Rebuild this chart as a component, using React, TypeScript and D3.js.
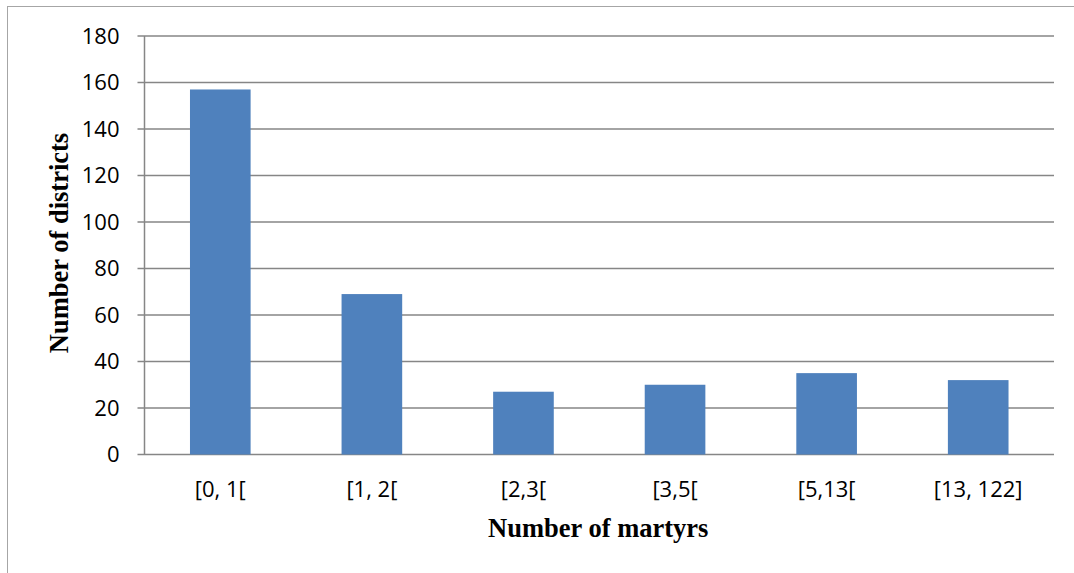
import * as d3 from "d3";
import { useEffect, useRef } from "react";

const categories = ["[0, 1[", "[1, 2[", "[2,3[", "[3,5[", "[5,13[", "[13, 122]"];
const districts = [157, 69, 27, 30, 35, 32];
const yTicks = [0, 20, 40, 60, 80, 100, 120, 140, 160, 180];

const width = 1074;
const height = 573;

export default function App() {
  const svgRef = useRef<SVGSVGElement>(null);

  useEffect(() => {
    if (!svgRef.current) return;
    const svg = d3.select(svgRef.current);
    svg.selectAll("*").remove();

    const margin = { top: 36, right: 20, bottom: 118.5, left: 144.5 };
    const innerWidth = width - margin.left - margin.right;
    const innerHeight = height - margin.top - margin.bottom;

    // chart frame
    svg
      .append("rect")
      .attr("x", 7.5)
      .attr("y", 6.5)
      .attr("width", width + 10)
      .attr("height", height + 10)
      .style("fill", "white")
      .style("stroke", "#a6a6a6")
      .style("stroke-width", 1);

    const g = svg
      .append("g")
      .attr("transform", `translate(${margin.left},${margin.top})`);

    const xScale = d3
      .scaleBand<string>()
      .domain(categories)
      .range([0, innerWidth]);

    const yScale = d3.scaleLinear().domain([0, 180]).range([innerHeight, 0]);

    // gridlines + tick marks
    g.append("g")
      .selectAll("line")
      .data(yTicks)
      .enter()
      .append("line")
      .attr("x1", -7)
      .attr("x2", innerWidth)
      .attr("y1", (d) => yScale(d))
      .attr("y2", (d) => yScale(d))
      .style("stroke", "#868686")
      .style("stroke-width", 1.5);

    // y axis line
    g.append("line")
      .attr("x1", 0)
      .attr("x2", 0)
      .attr("y1", 0)
      .attr("y2", innerHeight)
      .style("stroke", "#868686")
      .style("stroke-width", 1.5);

    // bars (gap width 150%)
    const barWidth = xScale.bandwidth() * 0.4;
    g.selectAll(".bar")
      .data(districts)
      .enter()
      .append("rect")
      .attr("class", "bar")
      .attr("x", (_, i) => (xScale(categories[i]) ?? 0) + (xScale.bandwidth() - barWidth) / 2)
      .attr("y", (d) => yScale(d))
      .attr("width", barWidth)
      .attr("height", (d) => innerHeight - yScale(d))
      .style("fill", "#4f81bd");

    // y tick labels
    g.selectAll(".ylabel")
      .data(yTicks)
      .enter()
      .append("text")
      .attr("class", "ylabel")
      .attr("x", -25)
      .attr("y", (d) => yScale(d))
      .attr("dy", "0.36em")
      .attr("text-anchor", "end")
      .style("font-family", "'Open Sans', sans-serif")
      .style("font-size", "22px")
      .style("fill", "#000")
      .text((d) => d);

    // x tick labels
    g.selectAll(".xlabel")
      .data(categories)
      .enter()
      .append("text")
      .attr("class", "xlabel")
      .attr("x", (d) => (xScale(d) ?? 0) + xScale.bandwidth() / 2)
      .attr("y", innerHeight + 42)
      .attr("text-anchor", "middle")
      .style("font-family", "'Open Sans', sans-serif")
      .style("font-size", "22px")
      .style("fill", "#000")
      .text((d) => d);

    // axis titles
    svg
      .append("text")
      .attr("x", margin.left + innerWidth / 2 - 1)
      .attr("y", 537)
      .attr("text-anchor", "middle")
      .style("font-family", "'Liberation Serif', 'Times New Roman', serif")
      .style("font-size", "26.5px")
      .style("font-weight", "bold")
      .style("fill", "#000")
      .text("Number of martyrs");

    svg
      .append("text")
      .attr("transform", "rotate(-90)")
      .attr("x", -243)
      .attr("y", 68)
      .attr("text-anchor", "middle")
      .style("font-family", "'Liberation Serif', 'Times New Roman', serif")
      .style("font-size", "26.5px")
      .style("font-weight", "bold")
      .style("fill", "#000")
      .text("Number of districts");
  }, []);

  return (
    <svg
      ref={svgRef}
      width={width}
      height={height}
      style={{ position: "absolute", left: 0, top: 0, background: "white" }}
    />
  );
}
